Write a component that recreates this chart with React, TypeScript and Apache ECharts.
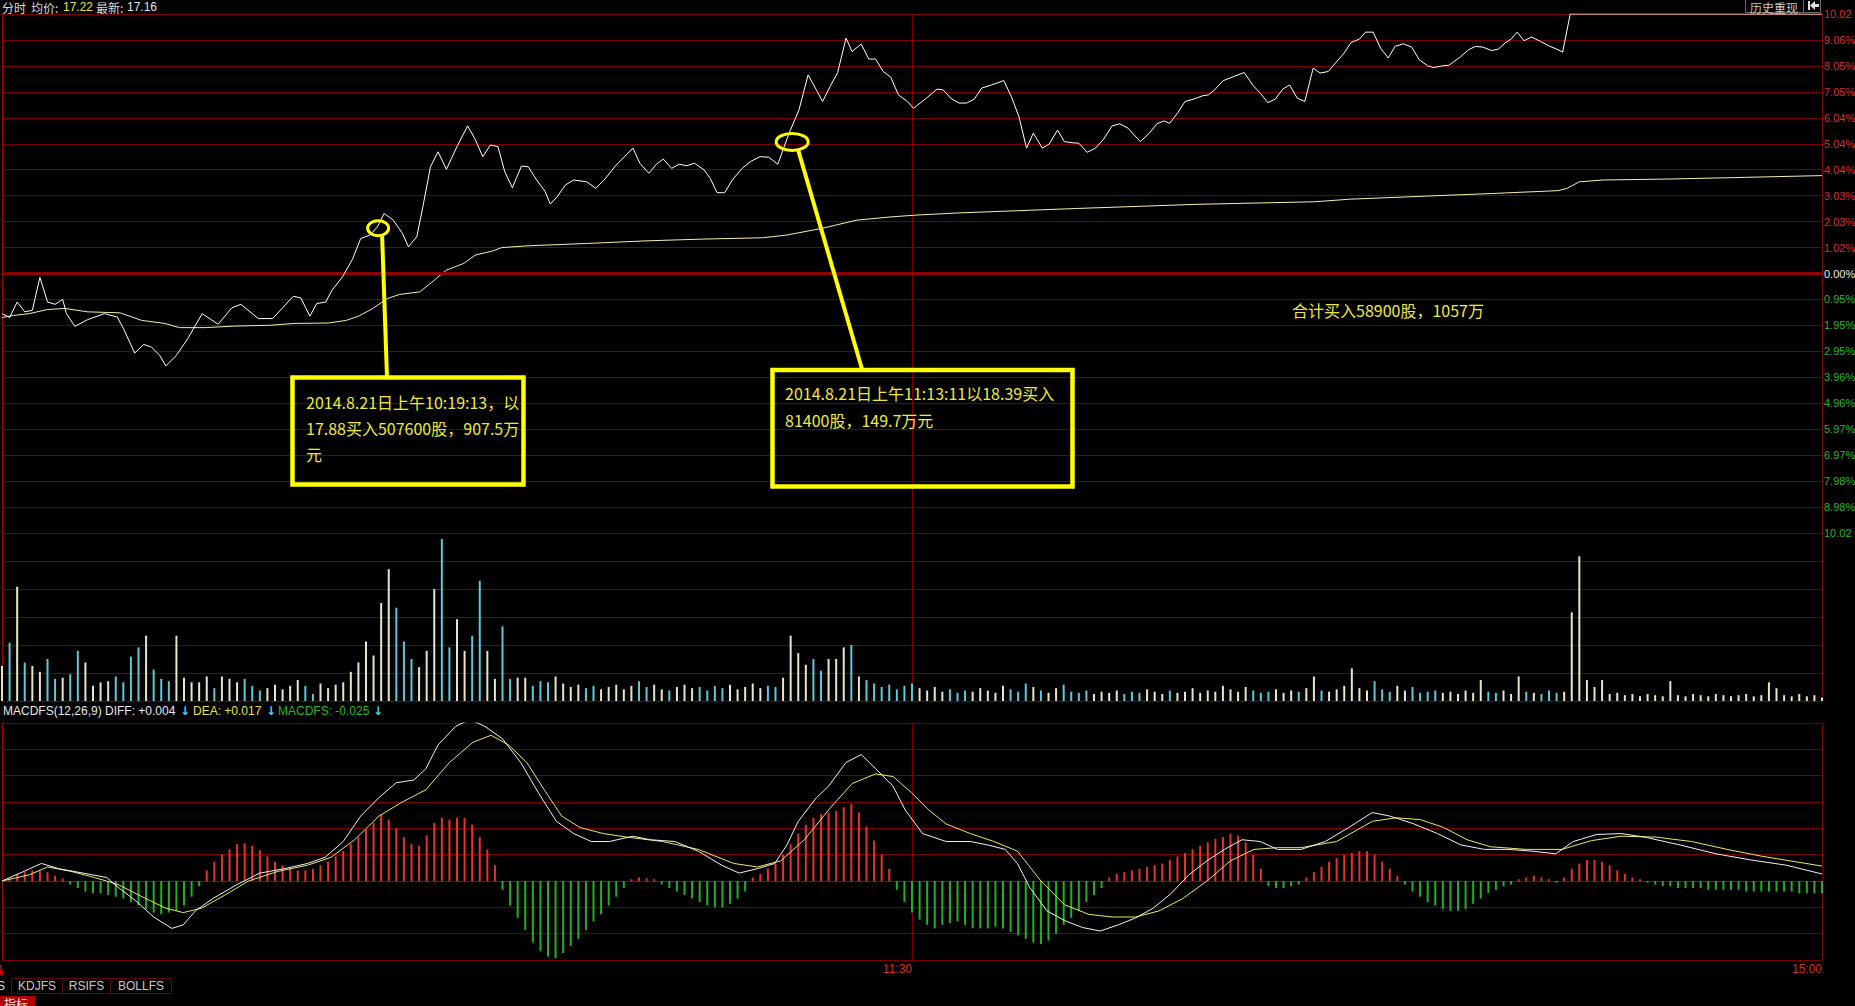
import React, { useEffect, useRef } from 'react';
import * as echarts from 'echarts';

// ---------- DATA ----------
const timeLabels: Record<number, string> = { 0: '9:30', 120: '11:30', 240: '15:00' };
// right axis labels from bottom (-10.02%) to top (+10.02%)
const pctLabels = ['10.02', '8.98%', '7.98%', '6.97%', '5.97%', '4.96%', '3.96%', '2.95%', '1.95%', '0.95%', '0.00%',
  '1.02%', '2.03%', '3.03%', '4.04%', '5.04%', '6.04%', '7.05%', '8.05%', '9.06%', '10.02'];

// [minute, % change]
const priceLine: [number, number][] = [
  [0, -1.55], [1, -1.7], [2, -1.1], [3, -1.48], [4, -1.42], [5, -0.15], [6, -1.1], [7, -1.19], [8, -1.0], [8.5, -1.55],
  [9.6, -2.04], [11.3, -1.78], [13.5, -1.55], [15.2, -1.68], [16, -2.12], [17.5, -3.07], [18.7, -2.74], [19.7, -2.84],
  [20.8, -3.16], [21.6, -3.57], [23, -3.16], [24.5, -2.51], [26.4, -1.55], [28.5, -1.96], [30.3, -1.33], [31.5, -1.19],
  [33.8, -1.74], [35.7, -1.74], [38.4, -0.88], [39.4, -0.94], [40.6, -1.65], [41.5, -1.16], [42.7, -1.1], [43.5, -0.65],
  [44.9, -0.13], [46.2, 0.54], [47.3, 1.35], [48.5, 1.48], [49.5, 1.8], [50.4, 2.32], [51.6, 2.06], [52.8, 1.55],
  [53.6, 1.03], [54.7, 1.42], [55.5, 2.58], [56.5, 4.12], [57.5, 4.7], [58.6, 4.02], [60, 4.9], [61.4, 5.7], [62.4, 5.18],
  [63.4, 4.51], [64.4, 4.96], [65.4, 4.9], [66.3, 3.93], [67.3, 3.31], [68.5, 4.15], [69.4, 4.12], [70.5, 3.61],
  [71.6, 3.18], [72.3, 2.68], [73.2, 2.96], [74.3, 3.42], [75.4, 3.61], [77.1, 3.54], [78.3, 3.29], [79.4, 3.61],
  [81, 4.19], [83.2, 4.84], [84.1, 4.26], [85.3, 3.87], [86.3, 4.22], [87.2, 4.42], [88.3, 4.06], [89.3, 4.22],
  [90.3, 4.16], [91.3, 4.26], [92.6, 4.0], [93.4, 3.67], [94.3, 3.12], [95.3, 3.12], [96.3, 3.61], [97.6, 4.06],
  [98.8, 4.34], [100, 4.51], [101.1, 4.49], [102.3, 4.22], [103.8, 5.42], [105.1, 6.32], [106.3, 7.67], [107.5, 7.03],
  [108.2, 6.64], [109.2, 7.22], [110.2, 7.76], [111.3, 9.09], [112.1, 8.57], [113.3, 8.86], [114.3, 8.28], [115.2, 8.28],
  [116.2, 7.8], [117.2, 7.58], [118.2, 6.9], [119.4, 6.64], [120.2, 6.38], [121.9, 6.77], [123.3, 7.12], [124.1, 7.09],
  [125.1, 6.77], [126.2, 6.58], [127.2, 6.58], [128.2, 6.73], [129.2, 7.16], [130.5, 7.28], [132.1, 7.45], [133.1, 6.83],
  [134.1, 6.06], [135.1, 4.84], [136, 5.42], [137.2, 4.84], [138.1, 5.0], [139.2, 5.54], [140.1, 5.09], [141.1, 5.05],
  [142, 5.03], [143.1, 4.68], [144.2, 4.84], [145.2, 5.16], [146.4, 5.7], [147.4, 5.78], [148.5, 5.61], [150.1, 5.09],
  [151.3, 5.42], [152.3, 5.78], [153.2, 5.89], [154, 5.8], [155, 6.19], [156, 6.64], [157.1, 6.73], [158.3, 6.86],
  [159.1, 6.9], [159.9, 7.09], [161, 7.44], [162.2, 7.58], [163.8, 7.76], [165, 7.25], [166, 6.94], [166.9, 6.6],
  [167.9, 6.73], [168.9, 7.12], [169.8, 7.28], [170.8, 6.77], [171.8, 6.64], [172.9, 7.93], [173.8, 7.74], [174.9, 7.8],
  [175.9, 8.15], [176.9, 8.48], [177.9, 8.92], [179, 9.05], [179.8, 9.32], [180.8, 9.32], [181.8, 8.7], [182.8, 8.32],
  [183.7, 8.77], [184.8, 8.87], [185.9, 8.74], [186.9, 8.25], [188, 8.02], [188.8, 7.95], [190, 8.02], [190.8, 8.04],
  [192.3, 8.36], [193.4, 8.64], [194.3, 8.77], [195.3, 8.74], [196.4, 8.61], [197.3, 8.66], [198.2, 8.9], [199, 9.05],
  [199.8, 9.32], [200.7, 8.99], [201.7, 9.13], [202.9, 8.96], [204.1, 8.77], [204.9, 8.68], [205.8, 8.55], [206.8, 10.02],
  [240, 10.02],
];

const avgLine: [number, number][] = [
  [0, -1.7], [1.5, -1.62], [3.6, -1.55], [6, -1.39], [8.3, -1.35], [11.3, -1.48], [15.6, -1.52], [18.4, -1.81],
  [21.5, -1.93], [23.4, -2.09], [26.8, -2.09], [30.7, -2.03], [35.3, -2.0], [38.4, -1.93], [43.1, -1.91], [45.4, -1.81],
  [47, -1.65], [48.9, -1.35], [50.8, -0.97], [52.4, -0.81], [55.1, -0.71], [57, -0.26], [58.6, 0.13], [60.9, 0.39],
  [62.4, 0.71], [64.7, 0.87], [65.9, 1.0], [69.4, 1.07], [77.1, 1.16], [84.9, 1.26], [92.6, 1.33], [100.3, 1.38],
  [103.4, 1.48], [108.1, 1.74], [112.7, 2.06], [117.4, 2.19], [120.8, 2.26], [126.2, 2.34], [141.7, 2.51], [157.4, 2.67],
  [173.1, 2.77], [177.8, 2.87], [188.8, 3.0], [196.6, 3.09], [205.2, 3.2], [206.4, 3.29], [208, 3.54], [211.1, 3.61],
  [220.2, 3.65], [228, 3.7], [240, 3.78],
];

// volume per minute (lots), 241 bars
const volume: number[] = [
  3000, 5000, 9800, 3300, 3000, 2500, 3600, 1900, 2000, 2300, 4300, 3300, 1300, 1600, 1700, 2100, 1600, 3800, 4600, 5600,
  2700, 1900, 1700, 5600, 2000, 1600, 1600, 2100, 1100, 2100, 1900, 1600, 1900, 1300, 900, 1100, 1400, 1000, 1300, 1800,
  1300, 600, 1500, 1100, 1400, 1600, 2500, 3300, 5100, 3900, 8400, 11300, 8000, 5100, 3600, 2900, 4300, 9600, 13900, 4600,
  7000, 4300, 5600, 10300, 4300, 1900, 6400, 1900, 2000, 2000, 1300, 1700, 1600, 2100, 1500, 1200, 1400, 1100, 1300, 1000,
  1200, 1400, 1000, 1300, 1700, 1200, 1400, 1000, 900, 1200, 1400, 1100, 1200, 900, 1300, 1100, 1400, 1000, 1200, 1500,
  1100, 1300, 1200, 2000, 5600, 4100, 3100, 3600, 2600, 3600, 3600, 4600, 4800, 2100, 1800, 1500, 1200, 1400, 1000, 1300,
  1500, 1100, 900, 1200, 800, 1000, 700, 900, 800, 1100, 900, 700, 1300, 1000, 800, 1500, 1200, 900, 700, 1100,
  1400, 800, 700, 900, 600, 800, 700, 900, 600, 800, 700, 1000, 800, 600, 900, 700, 800, 1100, 700, 900,
  800, 1300, 1000, 800, 1200, 900, 700, 800, 1000, 700, 900, 800, 1100, 2100, 900, 800, 1000, 1300, 2800, 1100,
  900, 1700, 1000, 800, 1300, 900, 1200, 700, 800, 900, 700, 800, 600, 900, 700, 1800, 800, 700, 900, 600,
  2100, 800, 700, 600, 900, 700, 800, 7600, 12400, 1800, 1200, 1800, 600, 700, 500, 600, 400, 600, 500, 400,
  1700, 500, 400, 600, 500, 400, 600, 500, 400, 500, 600, 400, 500, 1600, 1100, 500, 400, 600, 400, 500,
  300,
];

// MACD values in thousandths (0.001)
const diffLine: [number, number][] = [
  [0, 0], [2.9, 11], [5.2, 20], [7.5, 14], [10.7, 9], [13.8, 4], [15.3, -7], [17.7, -23], [20, -41], [22.4, -54],
  [23.9, -50], [25.5, -34], [27.8, -20], [31, -4], [34, 9], [37.2, 14], [40.3, 20], [42.6, 27], [45, 45], [47.3, 74],
  [49.7, 95], [52, 112], [54.3, 115], [55.9, 128], [57.5, 155], [59.8, 176], [61.7, 184], [63.7, 176], [66, 162],
  [68.4, 135], [70.7, 101], [73.1, 68], [75.4, 54], [77.7, 45], [80.1, 45], [83.2, 51], [85.5, 47], [88.7, 45],
  [91.8, 34], [94.9, 18], [97.2, 9], [99.6, 14], [101.9, 20], [103.5, 41], [105, 68], [107.4, 95], [109, 108],
  [111.3, 135], [113.3, 144], [115.2, 128], [117.5, 108], [119.1, 81], [121.4, 54], [124.5, 45], [127.7, 45], [130, 41],
  [132.3, 36], [133.9, 20], [135.5, -7], [137.8, -34], [140.1, -45], [142.5, -53], [144.8, -57], [147.2, -50],
  [149.5, -42], [151.8, -31], [154.2, -14], [156.5, 7], [158.9, 23], [161.2, 36], [163.5, 47], [165.9, 45], [168.2, 36],
  [171.3, 36], [174.5, 45], [177.6, 61], [180.7, 78], [183, 74], [186.2, 65], [189.3, 54], [192.4, 41], [195.5, 36],
  [198.6, 36], [201.8, 34], [204.9, 31], [207.2, 45], [210.3, 53], [213.5, 54], [216.6, 50], [221.3, 41], [226, 31],
  [230.6, 24], [235.3, 18], [240, 8],
];

const deaLine: [number, number][] = [
  [0, 0], [3.6, 7], [6, 16], [9.1, 11], [12.2, 4], [15.3, -4], [18.5, -18], [21.6, -31], [23.9, -36], [26.3, -31],
  [29.4, -16], [32.5, 0], [36.4, 11], [40.3, 18], [43.4, 27], [46.5, 47], [49.7, 74], [52.8, 90], [55.9, 104], [59, 135],
  [62.1, 158], [64.5, 166], [66.8, 155], [69.2, 135], [71.5, 104], [73.8, 74], [76.2, 61], [79.3, 54], [82.4, 50],
  [87.1, 45], [91.8, 36], [96.5, 20], [99.6, 16], [102.7, 23], [105.8, 47], [109, 81], [112.1, 111], [115.2, 122],
  [117.5, 119], [119.9, 101], [122.2, 81], [124.5, 65], [127.7, 54], [130.8, 45], [133.9, 34], [137, 0], [140.1, -27],
  [143.3, -38], [146.4, -41], [149.5, -41], [152.6, -34], [155.7, -20], [158.9, 0], [162, 23], [165.1, 36], [168.2, 38],
  [171.3, 38], [176, 45], [180.7, 68], [183.8, 72], [187, 70], [190.1, 61], [193.2, 47], [196.3, 39], [201, 36],
  [205.7, 36], [209.6, 46], [213.5, 51], [218.1, 50], [222.8, 45], [227.5, 36], [232.2, 28], [240, 17],
];

// MACD histogram per minute (thousandths), 241 bars
const macdHist: number[] = [
  0, 3, 8, 10, 12, 12, 10, 6, 3, -4, -8, -12, -14, -14, -16, -18, -20, -24, -28, -32,
  -36, -38, -36, -34, -28, -18, -6, 12, 22, 30, 36, 42, 43, 40, 35, 28, 22, 18, 15, 12,
  12, 14, 18, 22, 28, 34, 42, 50, 58, 66, 76, 70, 60, 50, 42, 40, 52, 66, 72, 70,
  72, 72, 64, 50, 36, 18, -10, -28, -42, -56, -70, -80, -86, -88, -82, -74, -66, -56, -46, -38,
  -28, -18, -8, 2, 4, 3, 2, -4, -8, -12, -16, -20, -24, -28, -30, -30, -26, -20, -12, 4,
  8, 14, 20, 30, 42, 54, 64, 72, 76, 78, 80, 84, 88, 78, 62, 46, 30, 14, -10, -24,
  -36, -44, -50, -54, -50, -48, -46, -50, -54, -54, -54, -52, -54, -58, -62, -66, -70, -72, -68, -60,
  -50, -42, -34, -24, -16, -8, 4, 8, 10, 12, 14, 16, 18, 20, 24, 28, 32, 36, 40, 44,
  48, 50, 54, 52, 44, 30, 14, -6, -8, -8, -6, -4, 4, 10, 16, 22, 26, 30, 32, 34,
  34, 30, 22, 14, 6, -4, -12, -18, -24, -28, -32, -34, -34, -32, -26, -20, -14, -10, -6, -4,
  2, 4, 6, 4, 2, -2, 4, 14, 20, 24, 24, 22, 18, 12, 8, 4, 2, -2, -4, -6,
  -6, -8, -8, -8, -8, -10, -10, -10, -10, -10, -12, -12, -12, -12, -12, -12, -12, -14, -14, -14,
  -14,
];

// buy annotations: anchor [minute, %]
const buyAnchors: [number, number][] = [[49.6, 1.75], [104.2, 5.08]];
const note1 = ['2014.8.21日上午10:19:13，以', '17.88买入507600股，907.5万', '元'];
const note2 = ['2014.8.21日上午11:13:11以18.39买入', '81400股，149.7万元'];
const totalNote = '合计买入58900股，1057万';

// ---------- STYLE ----------
const GRID = '#7a0000';
const AXIS = '#a00000';
const CJK = '"Noto Sans CJK SC", sans-serif';
const LAT = '"Liberation Sans", Arial, sans-serif';

function interp(pairs: [number, number][], x: number) {
  for (let k = 1; k < pairs.length; k++) {
    if (x <= pairs[k][0]) {
      const [x0, y0] = pairs[k - 1];
      const [x1, y1] = pairs[k];
      return y0 + ((y1 - y0) * (x - x0)) / (x1 - x0 || 1);
    }
  }
  return pairs[pairs.length - 1][1];
}

export default function App() {
  const ref = useRef<HTMLDivElement>(null);
  useEffect(() => {
    document.body.style.margin = '0';
    document.body.style.background = '#000';
    const chart = echarts.init(ref.current!, null, { renderer: 'svg' });

    const xBase = (gi: number, labels: boolean) => ({
      type: 'value', gridIndex: gi, min: 0, max: 240, interval: 120,
      axisLine: { show: labels, lineStyle: { color: AXIS, width: 1 } },
      axisTick: { show: false },
      axisLabel: labels ? {
        show: true, color: '#d03030', fontSize: 12, fontFamily: LAT, align: 'right', margin: 3,
        showMinLabel: true, showMaxLabel: true,
        formatter: (v: number) => timeLabels[Math.round(v)] ?? '',
      } : { show: false },
      splitLine: { show: true, lineStyle: { color: GRID, width: 1 } },
    });

    const gridBase = { outerBoundsMode: 'none', containLabel: false };

    const option: any = {
      animation: false,
      backgroundColor: '#000',
      grid: [
        { ...gridBase, left: 2, top: 14, width: 1820, height: 519 },
        { ...gridBase, left: 2, top: 533, width: 1820, height: 168 },
        { ...gridBase, left: 2, top: 723, width: 1820, height: 237 },
      ],
      xAxis: [xBase(0, false), xBase(1, false), xBase(2, true)],
      yAxis: [
        {
          type: 'value', gridIndex: 0, position: 'right', min: -10.02, max: 10.02, interval: 1.002,
          axisLine: { show: true, lineStyle: { color: AXIS } }, axisTick: { show: false },
          splitLine: { show: true, lineStyle: { color: GRID } },
          axisLabel: {
            show: true, margin: 2, showMinLabel: true, showMaxLabel: true,
            formatter: (v: number) => {
              const idx = Math.round((v + 10.02) / 1.002);
              const key = idx < 10 ? 'g' : idx === 10 ? 'w' : 'r';
              return `{${key}|${pctLabels[idx] ?? ''}}`;
            },
            rich: {
              r: { color: '#d83030', fontSize: 11, fontFamily: LAT },
              g: { color: '#26b826', fontSize: 11, fontFamily: LAT },
              w: { color: '#e8e8f0', fontSize: 11, fontFamily: LAT },
            },
          },
        },
        {
          type: 'value', gridIndex: 1, position: 'right', min: 0, max: 14400, interval: 2400,
          axisLine: { show: true, lineStyle: { color: AXIS } }, axisTick: { show: false },
          axisLabel: { show: false }, splitLine: { show: true, lineStyle: { color: GRID } },
        },
        {
          type: 'value', gridIndex: 2, position: 'right', min: -90, max: 180, interval: 30,
          axisLine: { show: true, lineStyle: { color: AXIS } }, axisTick: { show: false },
          axisLabel: { show: false }, splitLine: { show: true, lineStyle: { color: GRID } },
        },
      ],
      series: [
        {
          type: 'line', xAxisIndex: 0, yAxisIndex: 0, data: priceLine, showSymbol: false, silent: true,
          lineStyle: { color: '#ffffff', width: 1 }, z: 5,
          markLine: {
            silent: true, symbol: 'none', label: { show: false },
            lineStyle: { color: '#8e0000', width: 3, type: 'solid' },
            data: [{ yAxis: 0 }],
          },
        },
        {
          type: 'line', xAxisIndex: 0, yAxisIndex: 0, data: avgLine, showSymbol: false, silent: true,
          lineStyle: { color: '#f4f0a8', width: 1 }, z: 4,
        },
        {
          type: 'bar', xAxisIndex: 1, yAxisIndex: 1, barWidth: 2, silent: true,
          data: volume.map((v, i) => {
            const up = i === 0 ? true : interp(priceLine, i) >= interp(priceLine, i - 1);
            return { value: [i, v], itemStyle: { color: up ? '#e8e4c8' : '#5cc8d8' } };
          }),
        },
        {
          type: 'bar', xAxisIndex: 2, yAxisIndex: 2, barWidth: 2, silent: true,
          data: macdHist.map((v, i) => ({ value: [i, v], itemStyle: { color: v >= 0 ? '#e83030' : '#22b022' } })),
        },
        {
          type: 'line', xAxisIndex: 2, yAxisIndex: 2, data: diffLine, showSymbol: false, silent: true,
          lineStyle: { color: '#f0f0f0', width: 1 }, z: 5,
        },
        {
          type: 'line', xAxisIndex: 2, yAxisIndex: 2, data: deaLine, showSymbol: false, silent: true,
          lineStyle: { color: '#e8e860', width: 1 }, z: 4,
        },
      ],
    };
    chart.setOption(option);

    const a1 = chart.convertToPixel({ gridIndex: 0 }, buyAnchors[0]) as number[];
    const a2 = chart.convertToPixel({ gridIndex: 0 }, buyAnchors[1]) as number[];
    const Y = '#ffff00';
    const NT = '#eeea3c';
    const txt = (x: number, y: number, text: string, fill: string, font: string, align = 'left') => ({
      type: 'text', x, y, silent: true, z: 10,
      style: { text, fill, font, textAlign: align, textVerticalAlign: 'middle' },
    });

    const graphics: any[] = [
      // header
      txt(2, 7, '分时', '#d8d8d8', `12px ${CJK}`),
      txt(31, 7, '均价:', '#d8d8d8', `12px ${CJK}`),
      txt(63, 7, '17.22', '#e6e63c', `12px ${LAT}`),
      txt(96, 7, '最新:', '#d8d8d8', `12px ${CJK}`),
      txt(127, 7, '17.16', '#e0e4f0', `12px ${LAT}`),
      // history button
      { type: 'rect', z: 10, silent: true, shape: { x: 1745.5, y: -1.5, width: 58, height: 14 }, style: { fill: '#000', stroke: '#6a6a6a', lineWidth: 1 } },
      txt(1750, 7, '历史重现', '#c8c8c8', `12px ${CJK}`),
      { type: 'rect', z: 10, silent: true, shape: { x: 1803.5, y: -1.5, width: 17, height: 14 }, style: { fill: '#000', stroke: '#6a6a6a', lineWidth: 1 } },
      { type: 'rect', z: 11, silent: true, shape: { x: 1808, y: 1, width: 2, height: 9 }, style: { fill: '#e0e0e0' } },
      { type: 'polygon', z: 11, silent: true, shape: { points: [[1810, 5.5], [1815, 1], [1815, 10]] }, style: { fill: '#e0e0e0' } },
      { type: 'rect', z: 11, silent: true, shape: { x: 1815, y: 4, width: 4, height: 3 }, style: { fill: '#e0e0e0' } },
      // MACD header
      txt(3, 711, 'MACDFS(12,26,9) DIFF: +0.004', '#e8e8e8', `12px ${LAT}`),
      txt(180, 711, '↓', '#40d8f0', `bold 12px "DejaVu Sans"`),
      txt(193, 711, 'DEA: +0.017', '#e6e63c', `12px ${LAT}`),
      txt(266, 711, '↓', '#40d8f0', `bold 12px "DejaVu Sans"`),
      txt(278, 711, 'MACDFS: -0.025', '#26b826', `12px ${LAT}`),
      txt(373, 711, '↓', '#40d8f0', `bold 12px "DejaVu Sans"`),
      // annotations
      { type: 'ellipse', z: 12, silent: true, shape: { cx: a1[0], cy: a1[1], rx: 10.5, ry: 7.5 }, style: { fill: 'none', stroke: Y, lineWidth: 3 } },
      { type: 'ellipse', z: 12, silent: true, shape: { cx: a2[0], cy: a2[1], rx: 16, ry: 8.5 }, style: { fill: 'none', stroke: Y, lineWidth: 3 } },
      { type: 'line', z: 12, silent: true, shape: { x1: a1[0] + 4, y1: a1[1] + 8, x2: 387, y2: 377 }, style: { stroke: Y, lineWidth: 4 } },
      { type: 'line', z: 12, silent: true, shape: { x1: a2[0] + 6, y1: a2[1] + 8, x2: 862, y2: 369 }, style: { stroke: Y, lineWidth: 4 } },
      { type: 'rect', z: 12, silent: true, shape: { x: 292.5, y: 377.5, width: 231, height: 107 }, style: { fill: 'none', stroke: Y, lineWidth: 4.5 } },
      { type: 'rect', z: 12, silent: true, shape: { x: 772.5, y: 370, width: 300, height: 116.5 }, style: { fill: 'none', stroke: Y, lineWidth: 4.5 } },
      ...note1.map((t, k) => txt(306, 402 + k * 26, t, NT, `16px ${CJK}`)),
      ...note2.map((t, k) => txt(785, 393 + k * 27, t, NT, `16px ${CJK}`)),
      txt(1292, 310, totalNote, NT, `16px ${CJK}`),
      // bottom tabs
      { type: 'rect', z: 10, silent: true, shape: { x: 0, y: 970, width: 3, height: 5 }, style: { fill: '#c00000' } },
      txt(-3, 986, 'S', '#d8d8d8', `12px ${LAT}`),
      { type: 'rect', z: 10, silent: true, shape: { x: 11.5, y: 978.5, width: 51, height: 15 }, style: { fill: '#000', stroke: '#5a0a0a', lineWidth: 1 } },
      txt(37, 986, 'KDJFS', '#c8c8c8', `12px ${LAT}`, 'center'),
      { type: 'rect', z: 10, silent: true, shape: { x: 62.5, y: 978.5, width: 48, height: 15 }, style: { fill: '#000', stroke: '#5a0a0a', lineWidth: 1 } },
      txt(86.5, 986, 'RSIFS', '#c8c8c8', `12px ${LAT}`, 'center'),
      { type: 'rect', z: 10, silent: true, shape: { x: 110.5, y: 978.5, width: 61, height: 15 }, style: { fill: '#000', stroke: '#5a0a0a', lineWidth: 1 } },
      txt(141, 986, 'BOLLFS', '#c8c8c8', `12px ${LAT}`, 'center'),
      { type: 'rect', z: 10, silent: true, shape: { x: 0, y: 996, width: 35, height: 12 }, style: { fill: '#b00000' } },
      txt(4, 1003, '指标', '#f0f0f0', `12px ${CJK}`),
    ];
    chart.setOption({ graphic: graphics });

    return () => chart.dispose();
  }, []);
  return <div ref={ref} style={{ width: 1855, height: 1006, background: '#000' }} />;
}
